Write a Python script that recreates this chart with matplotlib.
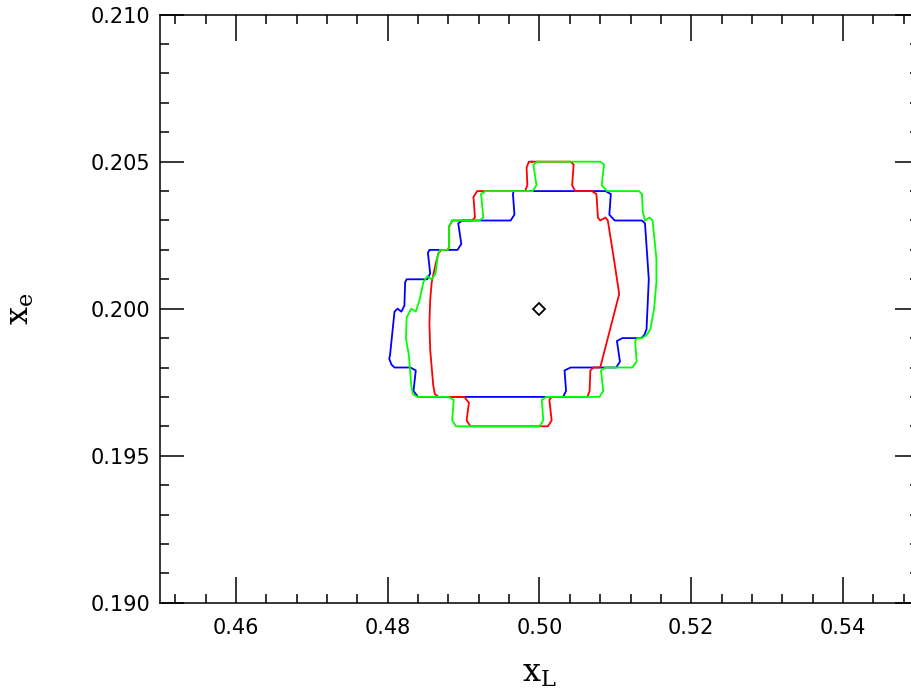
import numpy as np
import matplotlib
matplotlib.use("Agg")
import matplotlib.pyplot as plt
from matplotlib.ticker import MultipleLocator, FormatStrFormatter

# contour outlines (x_L, x_e)
blue_x = [0.4966, 0.5087, 0.5094, 0.5092, 0.5099, 0.5135, 0.5139, 0.5144, 0.5141, 0.5138,
          0.5134, 0.5109, 0.5102, 0.5106, 0.5101, 0.5041, 0.5033, 0.5035, 0.5031, 0.4840,
          0.4834, 0.4837, 0.4830, 0.4809, 0.4805, 0.4802, 0.4803, 0.4809, 0.4813, 0.4818,
          0.4822, 0.4823, 0.4825, 0.4852, 0.4856, 0.4853, 0.4855, 0.4892, 0.4897, 0.4893,
          0.4898, 0.4962, 0.4967, 0.4965, 0.4966]
blue_y = [0.2040, 0.2040, 0.2039, 0.2032, 0.2030, 0.2030, 0.2029, 0.2010, 0.1993, 0.1991,
          0.1990, 0.1990, 0.1989, 0.1982, 0.1980, 0.1980, 0.1979, 0.1972, 0.1970, 0.1970,
          0.1972, 0.1979, 0.1980, 0.1980, 0.1981, 0.1983, 0.1984, 0.1999, 0.2000, 0.1999,
          0.2001, 0.2009, 0.2010, 0.2010, 0.2012, 0.2019, 0.2020, 0.2020, 0.2022, 0.2029,
          0.2030, 0.2030, 0.2032, 0.2039, 0.2040]

red_x = [0.4990, 0.5041, 0.5045, 0.5043, 0.5047, 0.5069, 0.5075, 0.5077, 0.5080, 0.5087,
         0.5090, 0.5098, 0.5105, 0.5094, 0.5080, 0.5077, 0.5071, 0.5067, 0.5066, 0.5063,
         0.5016, 0.5013, 0.5016, 0.5011, 0.4909, 0.4904, 0.4907, 0.4901, 0.4867, 0.4862,
         0.4860, 0.4856, 0.4855, 0.4856, 0.4858, 0.4863, 0.4867, 0.4871, 0.4879, 0.4881,
         0.4881, 0.4885, 0.4911, 0.4915, 0.4913, 0.4918, 0.4981, 0.4984, 0.4983, 0.4986,
         0.4990]
red_y = [0.2050, 0.2050, 0.2049, 0.2042, 0.2040, 0.2040, 0.2039, 0.2031, 0.2030, 0.2031,
         0.2030, 0.2017, 0.2005, 0.1994, 0.1980, 0.1980, 0.1980, 0.1979, 0.1972, 0.1970,
         0.1970, 0.1969, 0.1962, 0.1960, 0.1960, 0.1962, 0.1968, 0.1970, 0.1970, 0.1971,
         0.1974, 0.1986, 0.1995, 0.2003, 0.2009, 0.2015, 0.2019, 0.2020, 0.2020, 0.2021,
         0.2028, 0.2030, 0.2030, 0.2031, 0.2038, 0.2040, 0.2040, 0.2042, 0.2048, 0.2050,
         0.2050]

green_x = [0.4997, 0.5080, 0.5085, 0.5082, 0.5089, 0.5131, 0.5135, 0.5136, 0.5139, 0.5145,
           0.5149, 0.5154, 0.5154, 0.5151, 0.5146, 0.5141, 0.5135, 0.5129, 0.5126, 0.5128,
           0.5122, 0.5087, 0.5081, 0.5084, 0.5079, 0.5009, 0.5003, 0.5005, 0.5000, 0.4890,
           0.4885, 0.4887, 0.4880, 0.4839, 0.4833, 0.4831, 0.4828, 0.4824, 0.4825, 0.4827,
           0.4831, 0.4837, 0.4842, 0.4847, 0.4852, 0.4858, 0.4863, 0.4866, 0.4869, 0.4874,
           0.4879, 0.4881, 0.4881, 0.4885, 0.4921, 0.4926, 0.4923, 0.4929, 0.4991, 0.4996,
           0.4992, 0.4997]
green_y = [0.2050, 0.2050, 0.2049, 0.2042, 0.2040, 0.2040, 0.2039, 0.2033, 0.2030, 0.2031,
           0.2030, 0.2017, 0.2009, 0.2000, 0.1993, 0.1991, 0.1990, 0.1990, 0.1989, 0.1982,
           0.1980, 0.1980, 0.1979, 0.1972, 0.1970, 0.1970, 0.1969, 0.1962, 0.1960, 0.1960,
           0.1962, 0.1969, 0.1970, 0.1970, 0.1971, 0.1974, 0.1984, 0.1990, 0.1997, 0.1998,
           0.2000, 0.1999, 0.2003, 0.2009, 0.2011, 0.2010, 0.2012, 0.2018, 0.2020, 0.2020,
           0.2020, 0.2021, 0.2028, 0.2030, 0.2030, 0.2031, 0.2039, 0.2040, 0.2040, 0.2042,
           0.2049, 0.2050]

# input point
true_x = [0.500]
true_y = [0.200]

plt.rcParams['mathtext.fontset'] = 'dejavuserif'

fig = plt.figure(figsize=(9.11, 6.92), dpi=100)
# right edge of the box sits just outside the picture, like the original
ax = fig.add_axes([0.1756, 0.1290, 0.8332, 0.8498])

ax.plot(blue_x, blue_y, color=(0, 0, 1), lw=1.3)
ax.plot(red_x, red_y, color=(1, 0, 0), lw=1.3)
ax.plot(green_x, green_y, color=(0, 1, 0), lw=1.3)
ax.plot(true_x, true_y, 'D', ms=6.5, mfc='none', mec='black', mew=1.3)

ax.set_xlim(0.45, 0.55)
ax.set_ylim(0.190, 0.210)

ax.xaxis.set_major_locator(MultipleLocator(0.02))
ax.xaxis.set_minor_locator(MultipleLocator(0.004))
ax.yaxis.set_major_locator(MultipleLocator(0.005))
ax.yaxis.set_minor_locator(MultipleLocator(0.001))
ax.xaxis.set_major_formatter(FormatStrFormatter('%.2f'))
ax.yaxis.set_major_formatter(FormatStrFormatter('%.3f'))

ax.tick_params(which='both', direction='in', top=True, right=True,
               width=1.1, labelsize=15, color='black')
ax.tick_params(axis='x', which='major', length=19, pad=11)
ax.tick_params(axis='y', which='major', length=17, pad=7)
ax.tick_params(which='minor', length=6.5)
for s in ax.spines.values():
    s.set_linewidth(1.1)

ax.set_xlabel(r'$\mathrm{x}_\mathrm{L}$', fontsize=23)
ax.set_ylabel(r'$\mathrm{x}_\mathrm{e}$', fontsize=23)
ax.xaxis.set_label_coords(0.5, -0.094)
ax.yaxis.set_label_coords(-0.163, 0.5)

fig.savefig('out.png', dpi=100)
